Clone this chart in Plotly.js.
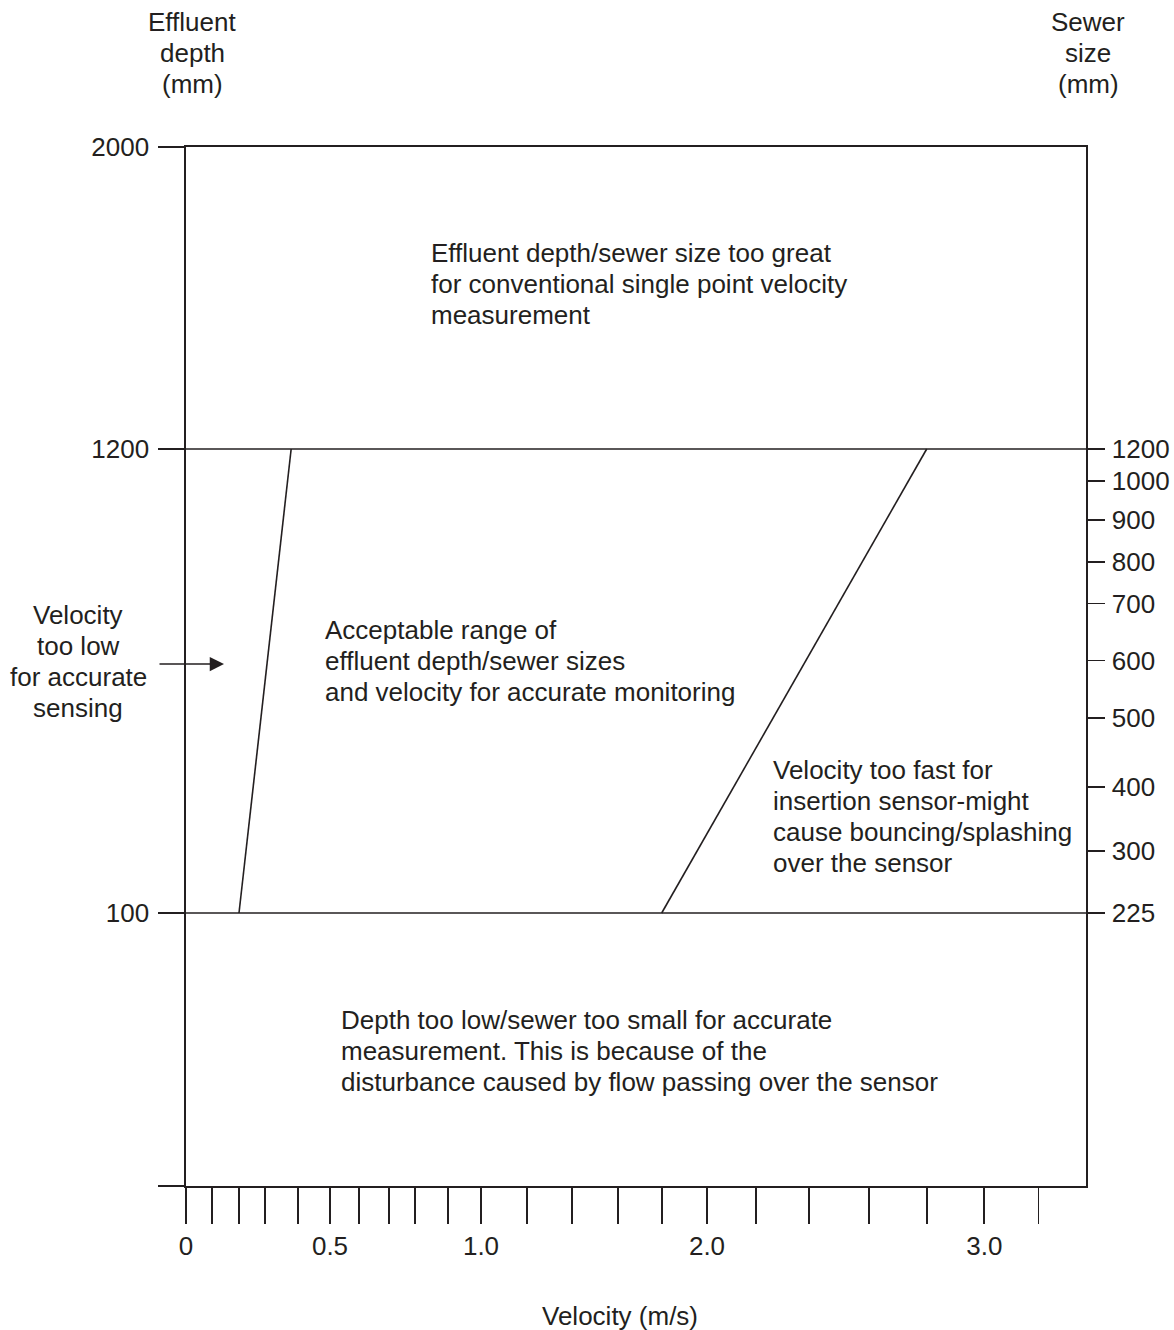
<!DOCTYPE html>
<html>
<head>
<meta charset="utf-8">
<script src="https://cdn.plot.ly/plotly-3.0.1.min.js"></script>
<style>
  html, body { margin: 0; padding: 0; background: #ffffff; }
  #chart { width: 1174px; height: 1330px; }
</style>
</head>
<body>
<div id="chart"></div>
<script>
// ---------------- DATA ----------------
// Velocity axis (m/s): ticks of the hand-drawn, non-uniform scale
const velocityTicks = [0, 0.1, 0.2, 0.3, 0.4, 0.5, 0.6, 0.7, 0.8, 0.9, 1.0, 1.2, 1.4, 1.6, 1.8, 2.0, 2.2, 2.4, 2.6, 2.8, 3.0, 3.2];
const velocityTickLabels = ['0', '', '', '', '', '0.5', '', '', '', '', '1.0', '', '', '', '', '2.0', '', '', '', '', '3.0', ''];
// where each velocity sits along the drawn scale (scale units, 0 = left frame, 900 = right frame)
const velocityScaleValues = [0, 0.1, 0.2, 0.3, 0.4, 0.5, 0.6, 0.7, 0.8, 0.9, 1.0, 1.2, 1.4, 1.6, 1.8, 2.0, 2.2, 2.4, 2.6, 2.8, 3.0, 3.2, 3.4];
const velocityScaleAt   = [0, 25.7, 53, 79, 111.7, 144, 173.3, 202.7, 229.3, 261.7, 295, 341, 386.3, 431.7, 475.7, 521, 570, 622.7, 683.3, 740.7, 798.3, 852.3, 900];

// Effluent depth axis (mm), left
const depthTicks = [0, 100, 1200, 2000];
const depthTickLabels = ['', '100', '1200', '2000'];
const depthScaleAt = [0, 273, 737, 1039];

// Sewer size axis (mm), right
const sewerTicks = [225, 300, 400, 500, 600, 700, 800, 900, 1000, 1200];
const sewerTickLabels = ['225', '300', '400', '500', '600', '700', '800', '900', '1000', '1200'];
const sewerScaleAt = [273, 335, 399.3, 468.3, 525.5, 582.5, 624, 666, 705, 737];

// Zone boundaries
const velocityExtent = [0, 3.4];
const maxDepthLimit = [1200, 1200];          // depth (mm) upper limit
const minDepthLimit = [100, 100];            // depth (mm) lower limit
const lowVelocityLimitVelocity = [0.2, 0.38];
const lowVelocityLimitDepth = [100, 1200];
const highVelocityLimitVelocity = [1.8, 2.8];
const highVelocityLimitDepth = [100, 1200];

// Texts
const leftAxisTitle = ['Effluent', 'depth', '(mm)'];
const rightAxisTitle = ['Sewer', 'size', '(mm)'];
const xAxisTitle = 'Velocity (m/s)';
const tooDeepText = ['Effluent depth/sewer size too great', 'for conventional single point velocity', 'measurement'];
const acceptableText = ['Acceptable range of', 'effluent depth/sewer sizes', 'and velocity for accurate monitoring'];
const tooFastText = ['Velocity too fast for', 'insertion sensor-might', 'cause bouncing/splashing', 'over the sensor'];
const tooShallowText = ['Depth too low/sewer too small for accurate', 'measurement. This is because of the', 'disturbance caused by flow passing over the sensor'];
const tooSlowText = ['Velocity', 'too low', 'for accurate', 'sensing'];

// ---------------- SCALES ----------------
function interp(v, xs, ys) {
  for (let i = 0; i < xs.length - 1; i++) {
    if (v <= xs[i + 1] || i === xs.length - 2) {
      const t = (v - xs[i]) / (xs[i + 1] - xs[i]);
      return ys[i] + t * (ys[i + 1] - ys[i]);
    }
  }
}
const vPos = v => interp(v, velocityScaleValues, velocityScaleAt);
const dPos = d => interp(d, depthTicks, depthScaleAt);

const INK = '#231f20';
const FONT = 'Liberation Sans, Arial, Helvetica, sans-serif';
const FS = 26;

// layout geometry
const W = 1174, H = 1330;
const M = { l: 186, r: 88, t: 147, b: 144 };
const PW = W - M.l - M.r, PH = H - M.t - M.b;
const pxX = x => (x - M.l) / PW;
const pxY = y => (H - M.b - y) / PH;

// ---------------- TRACES ----------------
const lineStyle = { color: INK, width: 1.6 };
const traces = [
  { x: velocityExtent.map(vPos), y: maxDepthLimit.map(dPos), mode: 'lines', line: lineStyle, hoverinfo: 'skip', showlegend: false },
  { x: velocityExtent.map(vPos), y: minDepthLimit.map(dPos), mode: 'lines', line: lineStyle, hoverinfo: 'skip', showlegend: false },
  { x: lowVelocityLimitVelocity.map(vPos), y: lowVelocityLimitDepth.map(dPos), mode: 'lines', line: lineStyle, hoverinfo: 'skip', showlegend: false },
  { x: highVelocityLimitVelocity.map(vPos), y: highVelocityLimitDepth.map(dPos), mode: 'lines', line: lineStyle, hoverinfo: 'skip', showlegend: false },
  // invisible trace to activate right axis
  { x: [0], y: [dPos(100)], yaxis: 'y2', mode: 'markers', marker: { opacity: 0 }, hoverinfo: 'skip', showlegend: false }
];

// ---------------- ANNOTATIONS ----------------
const annotations = [];
function block(lines, x, y0, step, align) {
  lines.forEach((t, i) => {
    annotations.push({
      text: t, xref: 'paper', yref: 'paper',
      x: pxX(x), y: pxY(y0 + i * step),
      xanchor: align, yanchor: 'middle', showarrow: false,
      font: { family: FONT, size: FS, color: INK }
    });
  });
}
block(leftAxisTitle, 192, 22, 31, 'center');
block(rightAxisTitle, 1088, 22, 31, 'center');
block(tooDeepText, 429, 253, 31, 'left');
block(acceptableText, 323, 630, 31, 'left');
block(tooFastText, 771, 770, 31, 'left');
block(tooShallowText, 339, 1020, 31, 'left');
block(tooSlowText, 78, 615, 31, 'center');
block([xAxisTitle], 620, 1316, 31, 'center');

annotations.push({
  text: '', xref: 'paper', yref: 'paper', x: pxX(224), y: pxY(664),
  ax: -66, ay: 0, axref: 'pixel', ayref: 'pixel',
  showarrow: true, arrowhead: 2, arrowsize: 1.9, arrowwidth: 1.5, arrowcolor: INK,
  standoff: 0, startstandoff: 0
});

// ---------------- LAYOUT ----------------
const axisCommon = {
  showgrid: false, zeroline: false, showline: true, linecolor: INK, linewidth: 1.6,
  ticks: 'outside', tickcolor: INK, tickwidth: 1.6,
  tickfont: { family: FONT, size: FS, color: INK }, tickmode: 'array',
  fixedrange: true, automargin: false
};
const layout = {
  width: W, height: H,
  margin: M,
  paper_bgcolor: '#ffffff', plot_bgcolor: '#ffffff',
  showlegend: false,
  font: { family: FONT, size: FS, color: INK },
  xaxis: Object.assign({}, axisCommon, {
    range: [vPos(velocityExtent[0]), vPos(velocityExtent[1])],
    tickvals: velocityTicks.map(vPos), ticktext: velocityTickLabels,
    ticklen: 36, mirror: true, ticklabelstandoff: 0
  }),
  yaxis: Object.assign({}, axisCommon, {
    range: [0, depthScaleAt[depthScaleAt.length - 1]],
    tickvals: depthTicks.map(dPos), ticktext: depthTickLabels,
    ticklen: 26, ticklabelstandoff: 4
  }),
  yaxis2: Object.assign({}, axisCommon, {
    overlaying: 'y', side: 'right',
    range: [0, depthScaleAt[depthScaleAt.length - 1]],
    tickvals: sewerTicks.map(s => interp(s, sewerTicks, sewerScaleAt)), ticktext: sewerTickLabels,
    ticklen: 17, ticklabelstandoff: 2
  }),
  annotations: annotations
};

Plotly.newPlot('chart', traces, layout, { staticPlot: true, displayModeBar: false });
</script>
</body>
</html>
